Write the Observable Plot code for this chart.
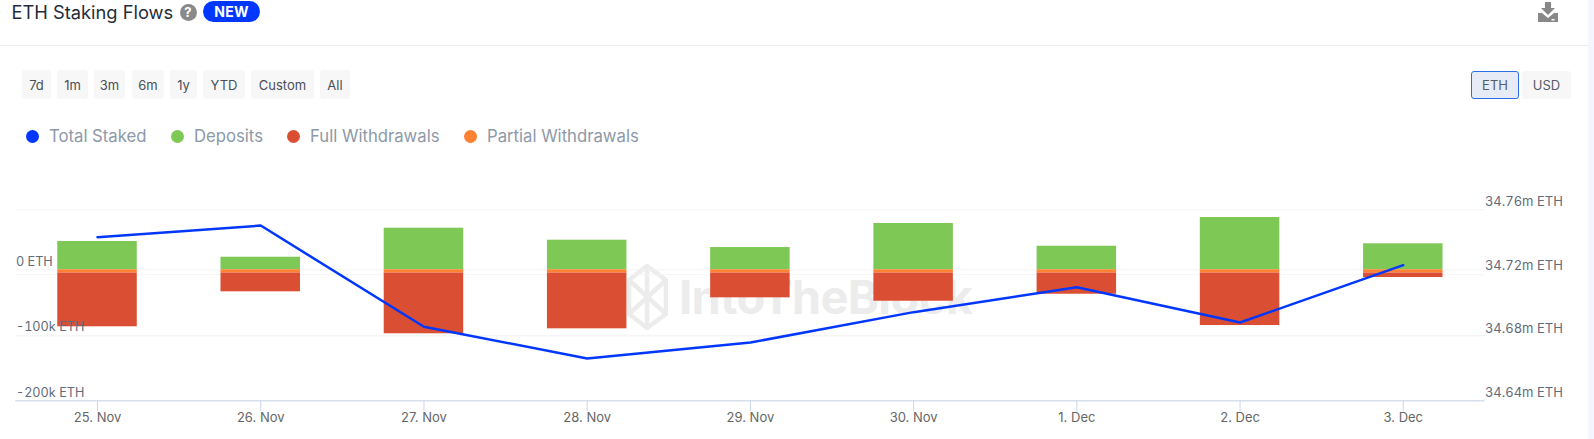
<!DOCTYPE html>
<html>
<head>
<meta charset="utf-8">
<script src="https://cdn.jsdelivr.net/npm/d3@7"></script>
<script src="https://cdn.jsdelivr.net/npm/@observablehq/plot@0.6"></script>
<style>
html,body{margin:0;padding:0;background:#fff;width:1594px;height:439px;overflow:hidden;font-family:Inter,"Noto Sans",sans-serif}
.abs{position:absolute}
.btn{position:absolute;top:70px;height:29px;line-height:30px;text-align:center;background:#f7f7f7;border-radius:3px;font-size:13px;color:#4a4f57;box-sizing:border-box}
.dot{position:absolute;top:129.5px;width:13px;height:13px;border-radius:50%}
.lg{position:absolute;top:124px;line-height:24px;font-size:16.7px;color:#8d99a8;white-space:nowrap}
#chart{position:absolute;left:0;top:190px;width:1594px;height:249px}
#chart svg{background:transparent;display:block}
</style>
</head>
<body>
<div class="abs" style="left:1588px;top:0;width:6px;height:439px;background:#f5f6fb"></div>
<div class="abs" style="left:0;top:45px;width:1588px;height:1px;background:#ececec"></div>
<div class="abs" style="left:11.500px;top:0;line-height:25px;font-size:18.300px;color:#1f2d3a;white-space:nowrap">ETH Staking Flows</div>
<div class="abs" style="left:179.500px;top:3.500px;width:17px;height:17px;border-radius:50%;background:#8a8a8a;color:#fff;font-size:13px;font-weight:700;line-height:17px;text-align:center">?</div>
<div class="abs" style="left:203px;top:1px;width:57px;height:21px;border-radius:11px;background:#0037ff;color:#fff;font-size:14px;font-weight:700;line-height:21px;text-align:center;letter-spacing:.3px">NEW</div>
<svg class="abs" style="left:1538px;top:2px" width="20" height="20" viewBox="0 0 20 20"><path d="M7 0h6v6h4l-7 7-7-7h4z" fill="#888"/><path d="M0 11h4l6 5 6-5h4v9H0z" fill="#888"/><rect x="13.500" y="17" width="3" height="1.500" fill="#fff"/></svg>
<div id="buttons"></div>
<div id="legend"></div>
<div class="btn" style="left:1471px;top:71px;width:48px;height:28px;line-height:27px;background:#e6ebf5;border:1px solid #2a6fe8;color:#555c66">ETH</div>
<div class="btn" style="left:1522px;top:71px;width:49px;height:28px;line-height:29px;color:#555c66">USD</div>
<div class="abs" id="wm" style="left:627px;top:264px;width:350px;height:66px">
<svg class="abs" style="left:0;top:0" width="41" height="66" viewBox="0 0 41 66" fill="none" stroke="#ececec" stroke-width="4.500"><path d="M20 2 39 16V50L20 64 2 50V16ZM20 2V30M2 16 39 50M39 16 2 50M20 36V64"/></svg>
<div class="abs" style="left:52px;top:3px;font-size:47px;font-weight:700;line-height:60px;color:#ececec;white-space:nowrap;letter-spacing:-.6px">IntoTheBlock</div>
</div>
<div id="chart"></div>
<script>
const days = ["25. Nov","26. Nov","27. Nov","28. Nov","29. Nov","30. Nov","1. Dec","2. Dec","3. Dec"];
const deposits = [43200,19200,63500,45200,34000,70700,36000,79800,39700];
const partialWithdrawals = [-4900,-4900,-4900,-4900,-4900,-4900,-4900,-4900,-4900];
const fullWithdrawals = [-82100,-28700,-92800,-85200,-37900,-43100,-32400,-80200,-6900];
const totalStaked = [34.7428,34.7501,34.6865,34.6666,34.6766,34.6957,34.7114,34.6892,34.7252];
const flowTicks = [0,-100000,-200000];
const stakedTicks = [34.76,34.72,34.68,34.64];
const stakedGrid = [34.76,34.7192,34.6808,34.64];
const seriesNames = ["Total Staked","Deposits","Full Withdrawals","Partial Withdrawals"];
const seriesColors = ["#0037ff","#7ec855","#da4f33","#ff8133"];
const ranges = ["7d","1m","3m","6m","1y","YTD","Custom","All"];
const rangeBox = [[22,29],[57,31],[94,31],[132,32],[170,27],[203,42],[251,63],[320,30]];
const legendBox = [[32,49],[177,194],[293,310],[470.700,487]];

ranges.forEach((r,i)=>{
  const d=document.createElement("div");d.className="btn";d.textContent=r;
  d.style.left=rangeBox[i][0]+"px";d.style.width=rangeBox[i][1]+"px";
  document.getElementById("buttons").appendChild(d);
});
seriesNames.forEach((s,i)=>{
  const l=document.getElementById("legend");
  const c=document.createElement("div");c.className="dot";c.style.left=(legendBox[i][0]-6.5)+"px";c.style.background=seriesColors[i];l.appendChild(c);
  const t=document.createElement("div");t.className="lg";t.style.left=legendBox[i][1]+"px";t.textContent=s;l.appendChild(t);
});

const toFlow = d3.scaleLinear().domain([34.64,34.76]).range([-200000,91600]);
const flows = [];
days.forEach((day,i)=>{
  flows.push({day,series:"Deposits",value:deposits[i]});
  flows.push({day,series:"Partial Withdrawals",value:partialWithdrawals[i]});
  flows.push({day,series:"Full Withdrawals",value:fullWithdrawals[i]});
});
const staked = days.map((day,i)=>({day,total:totalStaked[i]}));
const gridColor = "#f4f4f6";
const chart = Plot.plot({
  width:1594,height:249,
  marginLeft:15.4,marginRight:109.6,marginTop:10,marginBottom:38.7,
  style:{fontFamily:"Inter, sans-serif",fontSize:"13px",background:"transparent",overflow:"visible"},
  x:{type:"band",domain:days,paddingInner:0.513,paddingOuter:0.2565,round:false,label:null},
  y:{domain:[-200000,105800],label:null},
  color:{domain:seriesNames,range:seriesColors},
  marks:[
    Plot.ruleY(flowTicks,{stroke:gridColor}),
    Plot.ruleY(stakedGrid.map(v=>toFlow(v)),{stroke:gridColor}),
    Plot.barY(flows,{x:"day",y:"value",fill:"series"}),
    Plot.axisY({anchor:"left",ticks:flowTicks,tickSize:0,tickPadding:0,textAnchor:"start",dy:-8,label:null,
      fill:"#5f6b7a",fontSize:12.7,
      tickFormat:v=>v===0?"0 ETH":(v/1000)+"k ETH"}),
    Plot.axisY({anchor:"right",ticks:stakedTicks.map(v=>toFlow(v)),tickSize:0,tickPadding:0,textAnchor:"start",dy:-8,label:null,
      fill:"#5f6b7a",
      tickFormat:v=>toFlow.invert(v).toFixed(2)+"m ETH"}),
    Plot.axisX({tickSize:11,tickPadding:1,label:null,stroke:"#ccd6eb",fill:"#666666"}),
    Plot.ruleY([-200000],{stroke:"#ccd6eb",strokeWidth:1}),
    Plot.line(staked,{x:"day",y:d=>toFlow(d.total),stroke:seriesColors[0],strokeWidth:2.5,curve:"linear"})
  ]
});
document.getElementById("chart").appendChild(chart);
</script>
</body>
</html>
